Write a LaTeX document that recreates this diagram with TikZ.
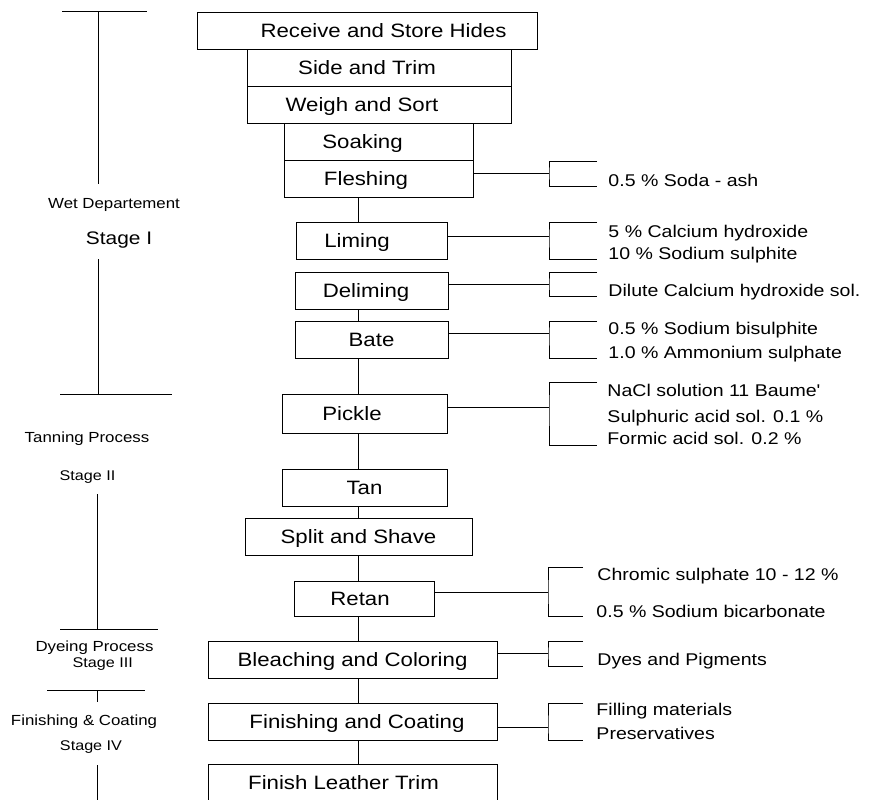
\documentclass[tikz,border=0pt]{standalone}
\usepackage{fontspec}
\setmainfont{Liberation Sans}[FakeStretch=1.15]
\newcommand{\boxfont}{\fontsize{16.5}{19}\selectfont}
\newcommand{\itemfont}{\fontsize{14.5}{17}\selectfont}
\newcommand{\deptfont}{\fontsize{12.5}{15}\selectfont}
\newcommand{\stagefont}{\fontsize{12}{14}\selectfont}
\newcommand{\stageIfont}{\fontsize{15.5}{18}\selectfont}

\begin{document}
\begin{tikzpicture}[x=0.03cm, y=-0.03cm, line width=0.8pt,
    stepbox/.style={draw, minimum height=1.11cm, inner sep=0pt,
      font=\boxfont, text height=11.8pt, text depth=0pt},
    tshift/.style={execute at begin node={\hspace*{#1}}},
    item/.style={anchor=base west, inner sep=0pt, font=\itemfont},
    dept/.style={inner sep=0pt, font=\deptfont},
    stagelbl/.style={inner sep=0pt, font=\stagefont}]
    \useasboundingbox (0,0) rectangle (875,799);

    % process steps
    \node[stepbox, minimum width=10.2cm, tshift=0.99cm] (receive) at (367,30.5) {Receive and Store Hides};
    \node[stepbox, minimum width=7.92cm, tshift=-0.72cm] (sidetrim) at (379,67.5) {Side and Trim};
    \node[stepbox, minimum width=7.92cm, tshift=-1.02cm] (weighsort) at (379,104.5) {Weigh and Sort};
    \node[stepbox, minimum width=5.67cm, tshift=-0.96cm] (soaking) at (378.5,141.5) {Soaking};
    \node[stepbox, minimum width=5.67cm, tshift=-0.75cm] (fleshing) at (378.5,178.5) {Fleshing};
    \node[stepbox, minimum width=4.53cm, tshift=-0.87cm] (liming) at (371.5,240.5) {Liming};
    \node[stepbox, minimum width=4.59cm, tshift=-0.33cm] (deliming) at (371.5,290.5) {Deliming};
    \node[stepbox, minimum width=4.59cm] (bate) at (371.5,339.5) {Bate};
    \node[stepbox, minimum width=4.95cm, minimum height=1.17cm, tshift=-0.75cm] (pickle) at (364.5,413.5) {Pickle};
    \node[stepbox, minimum width=4.95cm] (tan) at (364.5,488) {Tan};
    \node[stepbox, minimum width=6.81cm] (splitshave) at (358.5,537) {Split and Shave};
    \node[stepbox, minimum width=4.2cm, minimum height=1.05cm, tshift=-0.24cm] (retan) at (364,598.5) {Retan};
    \node[stepbox, minimum width=8.67cm] (bleaching) at (352.5,659.5) {Bleaching and Coloring};
    \node[stepbox, minimum width=8.67cm, tshift=0.27cm] (finishing) at (352.5,721.5) {Finishing and Coating};
    \node[stepbox, minimum width=8.67cm, tshift=-0.54cm] (leathertrim) at (352.5,782.5) {Finish Leather Trim};

    \coordinate (axis) at (358,0);
    \foreach \a/\b in {fleshing/liming, deliming/bate, bate/pickle, pickle/tan,
        tan/splitshave, splitshave/retan, retan/bleaching, bleaching/finishing,
        finishing/leathertrim}
        \draw (\a.south -| axis) -- (\b.north -| axis);

    % chemicals
    \coordinate (jfl) at (549,173);
    \coordinate (jlim) at (549,236);
    \coordinate (jdel) at (549,284);
    \coordinate (jbat) at (549,333);
    \coordinate (jpic) at (549,407);
    \coordinate (jret) at (548,592);
    \coordinate (jble) at (548,653);
    \coordinate (jfin) at (548,727);
    \foreach \s/\j in {fleshing/jfl, liming/jlim, deliming/jdel, bate/jbat,
        pickle/jpic, retan/jret, bleaching/jble, finishing/jfin}
        \draw (\s.east |- \j) -- (\j);
    \foreach \j/\t/\b/\l in {jfl/-12/13/48, jlim/-14/23/48, jdel/-12/12/48,
        jbat/-12/25/48, jpic/-25/38/48, jret/-25/24/35, jble/-12/13/35, jfin/-24/13/35}
        \draw (\j) ++(\l,\t) -| (\j) |- ++(\l,\b);

    \node[item] (soda) at (608,186) {0.5 \% Soda - ash};
    \node[item] (lime1) at (608,237) {5 \% Calcium hydroxide};
    \node[item] (lime2) at (608,259) {10 \% Sodium sulphite};
    \node[item] (delime1) at (608,296) {Dilute Calcium hydroxide sol.};
    \node[item] (bate1) at (608,334) {0.5 \% Sodium bisulphite};
    \node[item] (bate2) at (608,358) {1.0 \% Ammonium sulphate};
    \node[item] (pickle1) at (607,396) {NaCl solution 11 Baume\textquotesingle};
    \node[item] (pickle2) at (607,422) {Sulphuric acid sol. 0.1 \%};
    \node[item] (pickle3) at (607,444) {Formic acid sol. 0.2 \%};
    \node[item] (retan1) at (597,580) {Chromic sulphate 10 - 12 \%};
    \node[item] (retan2) at (596,617) {0.5 \% Sodium bicarbonate};
    \node[item] (dyes) at (597,665) {Dyes and Pigments};
    \node[item] (fill1) at (596,715) {Filling materials};
    \node[item] (fill2) at (596,739) {Preservatives};

    % stages
    \node[dept] (wetdept) at (114,205) {Wet Departement};
    \node[font=\stageIfont, inner sep=0pt] (stage1) at (119,240) {Stage I};
    \node[dept] (tanning) at (87,439) {Tanning Process};
    \node[stagelbl] (stage2) at (87.5,477) {Stage II};
    \node[dept] (dyeing) at (94.5,648) {Dyeing Process};
    \node[stagelbl] (stage3) at (102.7,664) {Stage III};
    \node[dept] (finishcoat) at (84,722) {Finishing \& Coating};
    \node[stagelbl] (stage4) at (91,747) {Stage IV};

    \draw (62,11) -- (147,11) (98,11) -- (98,184);
    \draw (98,259) -- (98,394) (60,394) -- (172,394);
    \draw (97,494) -- (97,629) (60,629) -- (158,629);
    \draw (47,690) -- (145,690) (97,690) -- (97,702);
    \draw (97,765) -- (97,805);
\end{tikzpicture}
\end{document}
